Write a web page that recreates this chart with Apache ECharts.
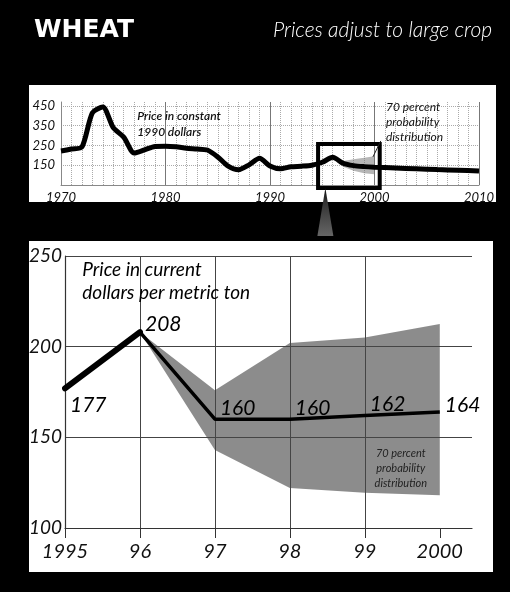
<!DOCTYPE html>
<html>
<head>
<meta charset="utf-8">
<style>
  html, body { margin: 0; padding: 0; background: #000; }
  .panel { position: absolute; background: #fff; }
  #chart { position: absolute; left: 0; top: 0; width: 510px; height: 592px; }
</style>
<script src="https://cdn.jsdelivr.net/npm/echarts@6/dist/echarts.min.js"></script>
</head>
<body>
<div class="panel" style="left:29px;top:85px;width:467px;height:117px"></div>
<div class="panel" style="left:29px;top:241px;width:464px;height:331px"></div>
<div id="chart"></div>
<script>
// top panel: price in constant 1990 dollars
const longYears = [1970, 1971, 1972, 1973, 1974, 1975, 1976, 1977, 1978, 1979,
  1980, 1981, 1982, 1983, 1984, 1985, 1986, 1987, 1988, 1989,
  1990, 1991, 1992, 1993, 1994, 1995, 1996, 1997, 1998, 1999,
  2000, 2002, 2004, 2006, 2008, 2010]
const longPrices = [222, 232, 242, 415, 445, 340, 292, 212, 228, 245,
  246, 243, 236, 232, 227, 192, 145, 127, 152, 185,
  146, 132, 142, 145, 150, 165, 190, 160, 148, 143,
  140, 136, 132, 128, 125, 121]
const longBandYears = [1996, 1997, 1998, 1999, 2000]
const longBandLow = [190, 142, 122, 110, 105]
const longBandHigh = [190, 172, 180, 188, 195]
const longYTicks = [150, 250, 350, 450]

// bottom panel: current dollars per metric ton
const histYears = [1995, 1996]
const histPrices = [177, 208]
const forecastYears = [1996, 1997, 1998, 1999, 2000]
const forecastPrices = [208, 160, 160, 162, 164]
const bandYears = [1996, 1997, 1998, 1999, 2000]
const bandLow = [208, 143, 122, 119.5, 118]
const bandHigh = [208, 176, 202, 205, 212.5]
const zoomXTicks = [1995, 1996, 1997, 1998, 1999, 2000]

const FONT = 'Lato'

function bandItem(years, low, high, fill) {
  return function (params, api) {
    if (params.dataIndex !== 0) return null
    const pts = []
    years.forEach((y, i) => pts.push(api.coord([y, high[i]])))
    for (let i = years.length - 1; i >= 0; i--) pts.push(api.coord([years[i], low[i]]))
    return { type: 'polygon', shape: { points: pts }, style: { fill: fill } }
  }
}

const chart = echarts.init(document.getElementById('chart'))

chart.setOption({
  animation: false,
  title: [
    {
      text: 'WHEAT',
      left: 29,
      top: 13,
      textStyle: { color: '#fff', fontFamily: 'DejaVu Sans', fontWeight: 'bold', fontSize: 25 }
    },
    {
      text: 'Prices adjust to large crop',
      right: 13,
      top: 15,
      textStyle: { color: '#fff', fontFamily: FONT, fontStyle: 'italic', fontWeight: 300, fontSize: 21 }
    }
  ],
  grid: [
    { left: 61, right: 31, top: 102, bottom: 407 },
    { left: 65, right: 38, top: 256, bottom: 64 }
  ],
  xAxis: [
    {
      gridIndex: 0, type: 'value', position: 'bottom', min: 1970, max: 2010, interval: 1,
      axisLine: { lineStyle: { color: '#888' } },
      axisTick: { show: false },
      axisLabel: { show: false },
      splitLine: { lineStyle: { color: '#aaa', type: 'dotted' } }
    },
    {
      gridIndex: 0, type: 'value', position: 'bottom', min: 1970, max: 2010, interval: 10,
      axisLine: { show: false },
      axisTick: { show: false },
      axisLabel: { color: '#111', fontFamily: FONT, fontStyle: 'italic', fontSize: 13, margin: 6, formatter: v => String(v) },
      splitLine: { lineStyle: { color: '#777' } }
    },
    {
      gridIndex: 1, type: 'value', position: 'bottom', min: 1995, max: 2000.43, interval: 1,
      axisLine: { lineStyle: { color: '#333', width: 1.2 } },
      axisTick: { length: 10, customValues: zoomXTicks, lineStyle: { color: '#333' } },
      axisLabel: {
        customValues: zoomXTicks,
        color: '#111', fontFamily: FONT, fontStyle: 'italic', fontSize: 20, margin: 14,
        formatter: v => (v === 1995 || v === 2000) ? String(v) : String(v).slice(2)
      },
      splitLine: { showMaxLine: false, lineStyle: { color: '#444' } }
    }
  ],
  yAxis: [
    {
      gridIndex: 0, type: 'value', min: 50, max: 470,
      axisLine: { show: true, lineStyle: { color: '#888' } },
      axisTick: { show: false, customValues: longYTicks },
      axisLabel: { customValues: longYTicks, color: '#111', fontFamily: FONT, fontStyle: 'italic', fontSize: 13, margin: 6 },
      splitLine: { lineStyle: { color: '#aaa', type: 'dotted' } }
    },
    {
      gridIndex: 1, type: 'value', min: 100, max: 250, interval: 50,
      axisLine: { show: true, lineStyle: { color: '#333', width: 1.2 } },
      axisTick: { show: false },
      axisLabel: { color: '#111', fontFamily: FONT, fontStyle: 'italic', fontSize: 19, margin: 3 },
      splitLine: { lineStyle: { color: '#444' } }
    }
  ],
  series: [
    {
      type: 'custom',
      xAxisIndex: 0, yAxisIndex: 0,
      data: longBandYears.map((y, i) => [y, longBandLow[i], longBandHigh[i]]),
      encode: { x: 0, y: [1, 2] },
      renderItem: bandItem(longBandYears, longBandLow, longBandHigh, 'rgba(110,110,110,0.5)'),
      z: 1
    },
    {
      type: 'line',
      xAxisIndex: 0, yAxisIndex: 0,
      data: longYears.map((y, i) => [y, longPrices[i]]),
      showSymbol: false,
      smooth: 0.25,
      lineStyle: { color: '#000', width: 5 },
      z: 3
    },
    {
      type: 'custom',
      xAxisIndex: 2, yAxisIndex: 1,
      data: bandYears.map((y, i) => [y, bandLow[i], bandHigh[i]]),
      encode: { x: 0, y: [1, 2] },
      renderItem: bandItem(bandYears, bandLow, bandHigh, 'rgba(70,70,70,0.62)'),
      z: 1
    },
    {
      type: 'line',
      xAxisIndex: 2, yAxisIndex: 1,
      data: histYears.map((y, i) => ({ value: [y, histPrices[i]], label: { offset: [0, i === 0 ? 17 : -8] } })),
      showSymbol: true,
      symbolSize: 0,
      lineStyle: { color: '#000', width: 6, cap: 'round' },
      label: {
        show: true, position: 'right', distance: 5,
        color: '#000', fontFamily: FONT, fontStyle: 'italic', fontSize: 21,
        formatter: p => p.value[1]
      },
      z: 4
    },
    {
      type: 'line',
      xAxisIndex: 2, yAxisIndex: 1,
      data: forecastYears.map((y, i) => ({ value: [y, forecastPrices[i]], label: { offset: [0, i === 4 ? -7 : -11] } })),
      showSymbol: true,
      symbolSize: 0,
      lineStyle: { color: '#000', width: 3.5 },
      label: {
        show: true, position: 'right', distance: 5,
        color: '#000', fontFamily: FONT, fontStyle: 'italic', fontSize: 21,
        formatter: p => p.dataIndex === 0 ? '' : p.value[1]
      },
      z: 4
    }
  ]
})

// annotations anchored through the axes
const topPx = v => chart.convertToPixel({ seriesIndex: 1 }, v)
const lowPx = v => chart.convertToPixel({ seriesIndex: 3 }, v)

const boxA = topPx([1994.6, 257])
const boxB = topPx([2000.5, 50])
const arrowX = topPx([1995.3, 50])[0]
const arrowBase = lowPx([1995, 250])[1] - 20
const leadA = topPx([2000.6, 273])
const leadB = topPx([1999.85, 192])
const noteTop = topPx([1977.3, 440])
const noteProb = topPx([2001.1, 480])
const noteLow = lowPx([1995.23, 248.6])
const noteBand = lowPx([1999.48, 133])

chart.setOption({
  graphic: [
    {
      type: 'rect', z: 10,
      shape: { x: boxA[0], y: boxA[1], width: boxB[0] - boxA[0], height: boxB[1] + 3 - boxA[1] },
      style: { fill: 'none', stroke: '#000', lineWidth: 4 }
    },
    {
      type: 'polygon', z: 10,
      shape: { points: [[arrowX, boxB[1] + 3], [arrowX - 8, arrowBase], [arrowX + 8, arrowBase]] },
      style: {
        fill: new echarts.graphic.LinearGradient(0, 0, 0, 1, [
          { offset: 0, color: '#111' }, { offset: 0.3, color: '#333' }, { offset: 1, color: '#666' }
        ])
      }
    },
    {
      type: 'line', z: 10,
      shape: { x1: leadA[0], y1: leadA[1], x2: leadB[0], y2: leadB[1] },
      style: { stroke: '#222', lineWidth: 1 }
    },
    {
      type: 'text', z: 10, x: noteTop[0], y: noteTop[1],
      style: {
        text: 'Price in constant\n1990 dollars', fill: '#111',
        font: 'italic 600 12px ' + FONT, lineHeight: 16
      }
    },
    {
      type: 'text', z: 10, x: noteProb[0], y: noteProb[1],
      style: {
        text: '70 percent\nprobability\ndistribution', fill: '#111',
        font: 'italic 12px ' + FONT, lineHeight: 15
      }
    },
    {
      type: 'text', z: 10, x: noteLow[0], y: noteLow[1],
      style: {
        text: 'Price in current\ndollars per metric ton', fill: '#000',
        font: 'italic 19px ' + FONT, lineHeight: 23
      }
    },
    {
      type: 'text', z: 10, x: noteBand[0], y: noteBand[1],
      style: {
        text: '70 percent\nprobability\ndistribution', fill: '#222',
        font: 'italic 11px ' + FONT, lineHeight: 15, align: 'center', verticalAlign: 'middle'
      }
    }
  ]
})
</script>
</body>
</html>
